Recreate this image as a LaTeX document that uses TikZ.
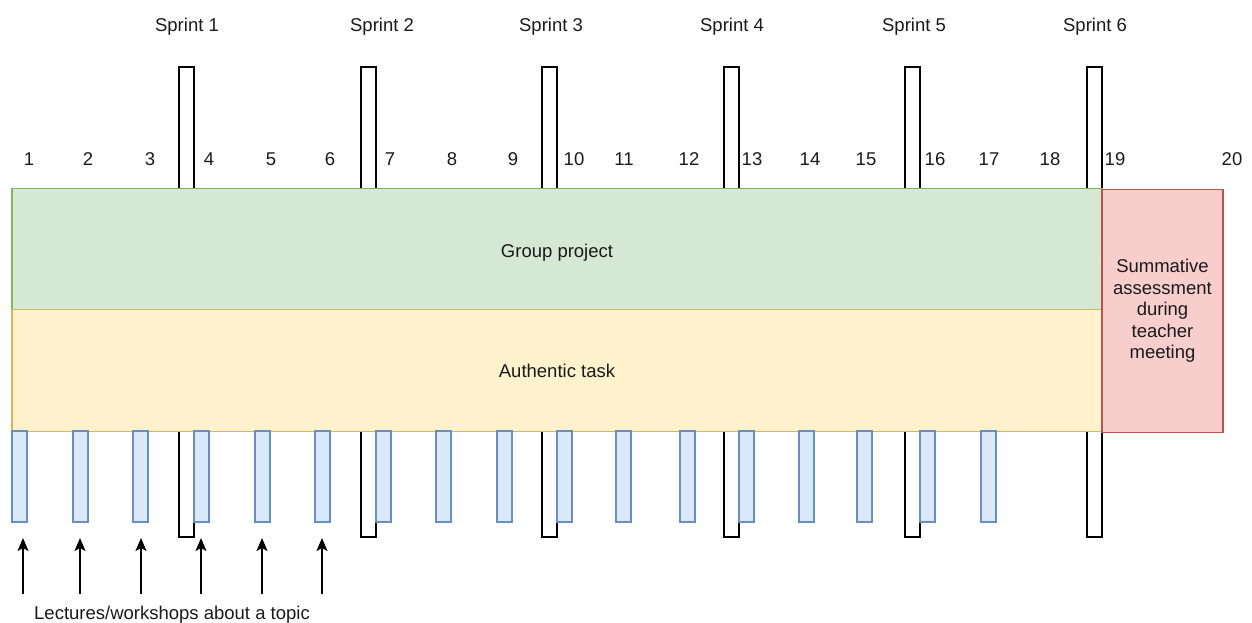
\documentclass[tikz,border=0pt]{standalone}
\usepackage{fontspec}
\setmainfont{Liberation Sans}
\usetikzlibrary{arrows.meta}
\definecolor{gfill}{HTML}{D5E8D4}\definecolor{gline}{HTML}{82B366}
\definecolor{yfill}{HTML}{FFF2CC}\definecolor{yline}{HTML}{D6B656}
\definecolor{rfill}{HTML}{F8CECC}\definecolor{rline}{HTML}{B85450}
\definecolor{bfill}{HTML}{DAE8FC}\definecolor{bline}{HTML}{6C8EBF}
\definecolor{txt}{HTML}{1A1A1A}
\begin{document}
\begin{tikzpicture}[x=1pt,y=-1pt,
  lbl/.style={font=\fontsize{18.5}{21.5}\selectfont, text=txt, inner sep=0pt},
  sprintbar/.style={draw=black, fill=white, line width=1.6pt},
  lecbar/.style={draw=bline, fill=bfill, line width=1.6pt},
  gbox/.style={draw=gline, fill=gfill, line width=1.7pt, inner sep=0pt},
  ybox/.style={draw=yline, fill=yfill, line width=1.7pt, inner sep=0pt},
  rbox/.style={draw=rline, fill=rfill, line width=1.7pt, inner sep=0pt, align=center},
  arr/.style={-{Stealth[length=13pt,width=11pt,inset=3pt]}, line width=1.5pt, draw=black}
]
\useasboundingbox (0,0) rectangle (1252,623);
% sprint labels
\foreach \x/\n in {187/1,382/2,551/3,732/4,914/5,1095/6}
  \node[lbl, anchor=base] (s\n) at (\x,32) {Sprint \n};
% sprint bars
\foreach \x in {179,361,542,724,905,1087}
  \draw[sprintbar] (\x,67) rectangle (\x+15,537);
% week numbers
\foreach \x/\n in {29/1,88/2,150/3,209/4,271/5,330/6,390/7,452/8,513/9,574/10,624/11,689/12,752/13,810/14,866/15,935/16,989/17,1050/18,1115/19,1232/20}
  \node[lbl] (w\n) at (\x,159) {\n};
% main boxes
\node[gbox, minimum width=1090pt, minimum height=121pt] (gp) at (557,249) {};
\node[lbl, anchor=base] (gpt) at (557,257) {Group project};
\node[ybox, minimum width=1090pt, minimum height=122pt] (at) at (557,370.5) {};
\node[lbl, anchor=base] (att) at (557,377) {Authentic task};
\node[rbox, minimum width=121pt, minimum height=243pt, font=\fontsize{18.5}{21.5}\selectfont, text=txt] (sa) at (1162.5,311) {Summative\\assessment\\during\\teacher\\meeting};
% lecture bars
\foreach \x in {12,73,133,194,255,315,376,436,497,557,616,680,739,799,857,920,981}
  \draw[lecbar] (\x,431) rectangle (\x+15,522);
% arrows
\foreach \x [count=\i] in {23,80,141,201,262,322} {
  \coordinate (ab\i) at (\x,594);
  \coordinate (at\i) at (\x,538);
  \draw[arr] (ab\i) -- (at\i);
}
\node[lbl, anchor=base] (lec) at (172,619) {Lectures/workshops about a topic};
\end{tikzpicture}
\end{document}
